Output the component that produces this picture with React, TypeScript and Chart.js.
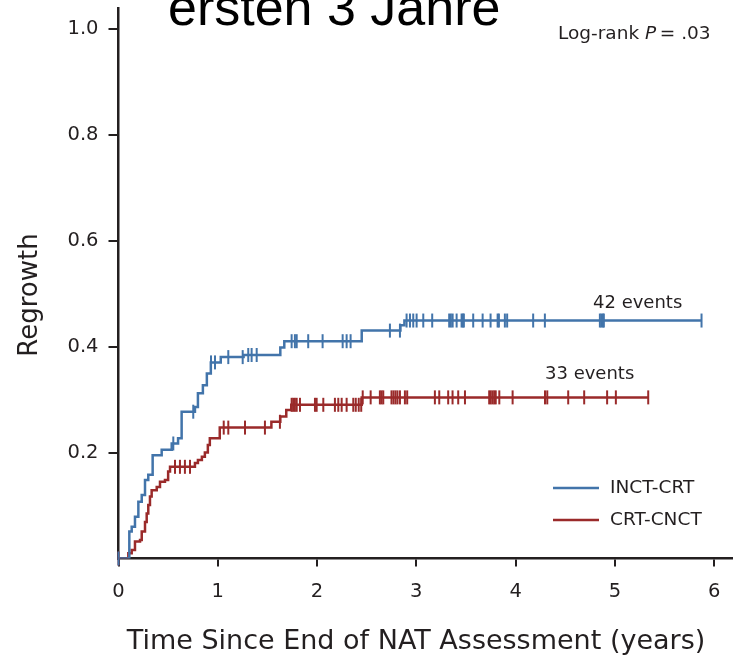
import React, { useEffect, useRef } from 'react';
import { Chart, registerables } from 'chart.js';

Chart.register(...registerables);

// ---- data ----
const xTicks = [0, 1, 2, 3, 4, 5, 6];
const yTicks = [0.2, 0.4, 0.6, 0.8, 1.0];

const seriesNames = ['INCT-CRT', 'CRT-CNCT'];

// INCT-CRT: step times (years) and cumulative regrowth level from that time on
const blueStepTimes = [0, 0.109, 0.133, 0.166, 0.2, 0.234, 0.267, 0.3, 0.344, 0.435, 0.536, 0.6, 0.636, 0.77, 0.8, 0.85, 0.89, 0.93, 1.03, 1.26, 1.63, 1.67, 2.45, 2.84, 2.88];
const blueStepRisk = [0, 0.051, 0.06, 0.079, 0.107, 0.12, 0.148, 0.158, 0.195, 0.205, 0.217, 0.227, 0.277, 0.286, 0.312, 0.327, 0.349, 0.37, 0.38, 0.384, 0.398, 0.41, 0.43, 0.44, 0.449];
const blueEnd = 5.873;
const blueCensor = [0, 0.552, 0.753, 0.932, 0.972, 1.106, 1.251, 1.307, 1.341, 1.392, 1.744, 1.777, 1.795, 1.911, 2.056, 2.258, 2.298, 2.338, 2.734, 2.835, 2.902, 2.936, 2.969, 3.003, 3.07, 3.16, 3.331, 3.348, 3.366, 3.406, 3.456, 3.469, 3.479, 3.573, 3.668, 3.748, 3.819, 3.832, 3.892, 3.915, 4.177, 4.295, 4.849, 4.864, 4.879, 4.889, 5.873];

// CRT-CNCT
const redStepTimes = [0, 0.099, 0.133, 0.166, 0.217, 0.234, 0.267, 0.284, 0.3, 0.317, 0.334, 0.385, 0.418, 0.468, 0.5, 0.519, 0.77, 0.8, 0.84, 0.87, 0.9, 0.92, 1.02, 1.54, 1.63, 1.69, 1.74, 2.45];
const redStepRisk = [0, 0.01, 0.016, 0.032, 0.035, 0.051, 0.069, 0.085, 0.101, 0.117, 0.129, 0.135, 0.145, 0.148, 0.164, 0.173, 0.18, 0.186, 0.192, 0.2, 0.214, 0.227, 0.247, 0.258, 0.268, 0.28, 0.29, 0.304];
const redEnd = 5.336;
const redCensor = [0, 0.569, 0.619, 0.669, 0.72, 1.06, 1.106, 1.274, 1.475, 1.626, 1.744, 1.76, 1.777, 1.795, 1.828, 1.979, 1.996, 2.063, 2.18, 2.214, 2.248, 2.298, 2.365, 2.39, 2.42, 2.445, 2.46, 2.54, 2.633, 2.65, 2.667, 2.75, 2.77, 2.79, 2.81, 2.835, 2.885, 2.908, 3.187, 3.231, 3.321, 3.365, 3.422, 3.49, 3.734, 3.75, 3.768, 3.785, 3.8, 3.836, 3.97, 4.296, 4.319, 4.53, 4.691, 4.922, 5.01, 5.336];

const eventLabels = ['42 events', '33 events'];
const titleText = 'ersten 3 Jahre';
const xTitle = 'Time Since End of NAT Assessment (years)';
const yTitle = 'Regrowth';

// ---- styling ----
const BLUE = '#4274aa';
const RED = '#9a2a2a';
const INK = '#231f20';
const SANS = '"DejaVu Sans", "Liberation Sans", Arial, sans-serif';
const ARIAL = '"Liberation Sans", Arial, sans-serif';

function stepLine(times: number[], risk: number[], end: number) {
  const pts = times.map((t, i) => ({ x: t, y: risk[i] }));
  pts.push({ x: end, y: risk[risk.length - 1] });
  return pts;
}

function levelAt(times: number[], risk: number[], t: number) {
  let v = 0;
  for (let i = 0; i < times.length; i++) {
    if (times[i] <= t + 1e-9) v = risk[i];
  }
  return v;
}

function censorPoints(times: number[], risk: number[], cens: number[]) {
  return cens.map((t) => ({ x: t, y: levelAt(times, risk, t) }));
}

const textPlugin = {
  id: 'kmText',
  afterDraw(chart: any) {
    const ctx = chart.ctx as CanvasRenderingContext2D;
    ctx.save();

    // overlay title (partially cut at the top)
    ctx.fillStyle = '#000';
    ctx.font = `52px ${ARIAL}`;
    ctx.textAlign = 'left';
    ctx.textBaseline = 'alphabetic';
    ctx.fillText(titleText, 168, 25);

    // log-rank
    ctx.fillStyle = INK;
    ctx.font = `18.5px ${SANS}`;
    let x = 558;
    const by = 39;
    const p1 = 'Log-rank ';
    ctx.fillText(p1, x, by);
    x += ctx.measureText(p1).width;
    ctx.font = `italic 18.5px ${SANS}`;
    ctx.fillText('P', x, by);
    x += ctx.measureText('P').width;
    ctx.font = `18.5px ${SANS}`;
    ctx.fillText('\u2009= .03', x, by);

    // event labels
    ctx.font = `18px ${SANS}`;
    ctx.fillText(eventLabels[0], 593, 308);
    ctx.fillText(eventLabels[1], 545, 379);

    // legend
    const legendY = [488, 520];
    const colors = [BLUE, RED];
    for (let i = 0; i < 2; i++) {
      ctx.strokeStyle = colors[i];
      ctx.lineWidth = 2.5;
      ctx.beginPath();
      ctx.moveTo(553, legendY[i]);
      ctx.lineTo(599, legendY[i]);
      ctx.stroke();
      ctx.fillStyle = INK;
      ctx.font = `18.5px ${SANS}`;
      ctx.textBaseline = 'middle';
      ctx.fillText(seriesNames[i], 610, legendY[i]);
    }

    // axis titles
    ctx.textBaseline = 'alphabetic';
    ctx.textAlign = 'center';
    ctx.font = `27px ${SANS}`;
    ctx.fillText(xTitle, 416, 649);

    ctx.save();
    ctx.translate(37, 295);
    ctx.rotate(-Math.PI / 2);
    ctx.font = `26px ${SANS}`;
    ctx.fillText(yTitle, 0, 0);
    ctx.restore();

    ctx.restore();
  },
};

export default function App() {
  const ref = useRef<HTMLCanvasElement | null>(null);

  useEffect(() => {
    if (!ref.current) return;
    const tickFont = { family: SANS, size: 19.5 };
    const chart = new Chart(ref.current, {
      type: 'scatter',
      data: {
        datasets: [
          {
            label: seriesNames[0],
            data: stepLine(blueStepTimes, blueStepRisk, blueEnd),
            showLine: true,
            stepped: true,
            borderColor: BLUE,
            borderWidth: 2.5,
            pointRadius: 0,
          } as any,
          {
            label: seriesNames[1],
            data: stepLine(redStepTimes, redStepRisk, redEnd),
            showLine: true,
            stepped: true,
            borderColor: RED,
            borderWidth: 2.5,
            pointRadius: 0,
          } as any,
          {
            label: seriesNames[0] + ' censored',
            data: censorPoints(blueStepTimes, blueStepRisk, blueCensor),
            showLine: false,
            pointStyle: 'line',
            pointRadius: 7,
            pointRotation: 90,
            pointBorderColor: BLUE,
            pointBackgroundColor: BLUE,
            pointBorderWidth: 2,
            clip: false,
          } as any,
          {
            label: seriesNames[1] + ' censored',
            data: censorPoints(redStepTimes, redStepRisk, redCensor),
            showLine: false,
            pointStyle: 'line',
            pointRadius: 7,
            pointRotation: 90,
            pointBorderColor: RED,
            pointBackgroundColor: RED,
            pointBorderWidth: 2,
            clip: false,
          } as any,
        ],
      },
      options: {
        responsive: false,
        animation: false,
        events: [],
        layout: { autoPadding: false, padding: { top: 8, left: 0, right: 0, bottom: 0 } },
        plugins: {
          legend: { display: false },
          tooltip: { enabled: false },
          title: { display: false },
        },
        scales: {
          x: {
            type: 'linear',
            min: 0,
            max: 6.19,
            afterBuildTicks: (s: any) => {
              s.ticks = xTicks.map((v) => ({ value: v }));
            },
            afterFit: (s: any) => {
              s.height = 100.5;
              s.paddingLeft = 0;
              s.paddingRight = 0;
            },
            ticks: {
              font: tickFont,
              color: INK,
              padding: 14,
              maxRotation: 0,
              callback: (v: any) => String(v),
            },
            grid: { drawOnChartArea: false, tickLength: 8, color: INK, lineWidth: 2 },
            border: { color: INK, width: 2.5 },
          },
          y: {
            type: 'linear',
            min: 0,
            max: 1.0387,
            afterBuildTicks: (s: any) => {
              s.ticks = yTicks.map((v) => ({ value: v }));
            },
            afterFit: (s: any) => {
              s.width = 118.5;
              s.paddingTop = 0;
              s.paddingBottom = 0;
            },
            ticks: {
              font: tickFont,
              color: INK,
              padding: 10,
              callback: (v: any) => Number(v).toFixed(1),
            },
            grid: { drawOnChartArea: false, tickLength: 10, color: INK, lineWidth: 2 },
            border: { color: INK, width: 2.5 },
          },
        },
      } as any,
      plugins: [textPlugin],
    });
    return () => chart.destroy();
  }, []);

  return (
    <div style={{ position: 'fixed', left: 0, top: 0, width: 733, height: 659, background: '#fff' }}>
      <canvas ref={ref} width={733} height={659} style={{ display: 'block' }} />
    </div>
  );
}
